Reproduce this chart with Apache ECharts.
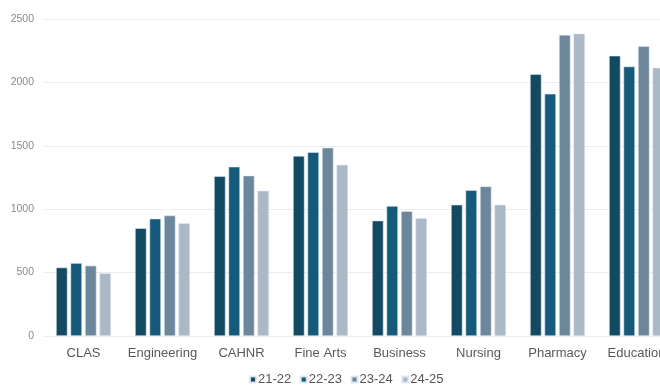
<!DOCTYPE html>
<html>
<head>
<meta charset="utf-8">
<script src="https://cdn.jsdelivr.net/npm/echarts@6/dist/echarts.min.js"></script>
<style>
  html, body { margin: 0; padding: 0; background: #fff; overflow: hidden; }
  #chart { width: 680px; height: 386px; }
</style>
</head>
<body>
<div id="chart"></div>
<script>
const colleges = ['CLAS', 'Engineering', 'CAHNR', 'Fine Arts', 'Business', 'Nursing', 'Pharmacy', 'Education'];
const years = ['21-22', '22-23', '23-24', '24-25'];
const y2122 = [540, 850, 1260, 1420, 910, 1035, 2065, 2210];
const y2223 = [575, 925, 1335, 1450, 1025, 1150, 1910, 2125];
const y2324 = [555, 950, 1265, 1485, 985, 1180, 2375, 2285];
const y2425 = [495, 890, 1145, 1350, 930, 1035, 2385, 2115];
const yearValues = [y2122, y2223, y2324, y2425];
const palette = ['#124a64', '#155a7b', '#6c879c', '#abb8c6'];

const chart = echarts.init(document.getElementById('chart'), null, { renderer: 'canvas' });
chart.setOption({
  animation: false,
  color: palette,
  grid: { left: 44, right: 4, top: 19, bottom: 50 },
  legend: {
    bottom: -5,
    left: 244,
    itemWidth: 6,
    itemHeight: 6,
    itemGap: 8.5,
    icon: 'rect',
    textStyle: { color: '#555', fontSize: 13, fontFamily: 'Liberation Sans, Arial, sans-serif', padding: [0, 0, 0, -3] },
    data: years
  },
  xAxis: {
    type: 'category',
    data: colleges,
    axisLine: { show: false },
    axisTick: { show: false },
    axisLabel: { interval: 0, color: '#595959', fontSize: 13, margin: 11, fontFamily: 'Liberation Sans, Arial, sans-serif' }
  },
  yAxis: {
    type: 'value',
    min: 0,
    max: 2500,
    interval: 500,
    axisLine: { show: false },
    axisTick: { show: false },
    splitLine: { lineStyle: { color: '#ececec', width: 1 } },
    axisLabel: {
      color: '#8a8a8a', fontSize: 10.5, margin: 10, fontFamily: 'Liberation Sans, Arial, sans-serif',
      formatter: v => String(v)
    }
  },
  series: years.map((name, i) => ({
    name: name,
    type: 'bar',
    data: yearValues[i],
    barWidth: 11.5,
    barGap: '26%',
    itemStyle: { borderColor: 'rgba(225,232,238,0.9)', borderWidth: 0.6 }
  }))
});
</script>
</body>
</html>
